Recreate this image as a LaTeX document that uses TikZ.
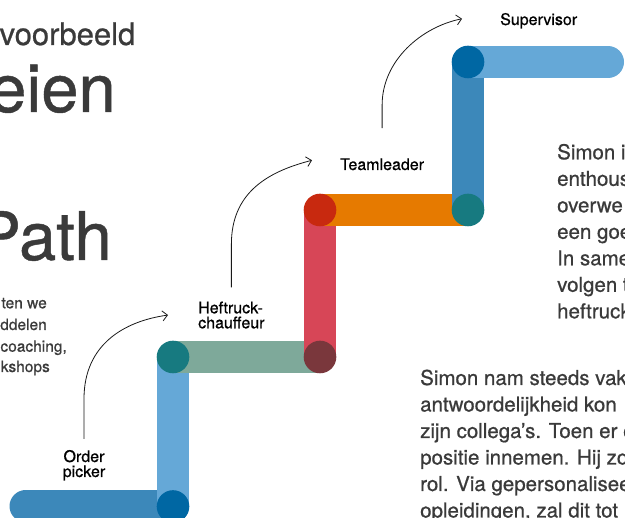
\documentclass[tikz,border=0pt]{standalone}
\usepackage{fontspec}
\setmainfont{TeX Gyre Heros}[FakeBold=0.7]
\usetikzlibrary{arrows.meta}
\definecolor{medblue}{HTML}{3C88BA}
\definecolor{lightblue}{HTML}{65A8D7}
\definecolor{darkblue}{HTML}{0067A3}
\definecolor{tealc}{HTML}{177A80}
\definecolor{greenbar}{HTML}{7EA99A}
\definecolor{maroon}{HTML}{7A373C}
\definecolor{redbar}{HTML}{D74657}
\definecolor{redjoint}{HTML}{C8290F}
\definecolor{orangebar}{HTML}{E67A00}
\definecolor{txt}{HTML}{3A3A3A}
\begin{document}
\begin{tikzpicture}[x=1pt,y=-1pt,
  bar/.style={line width=32pt},
  joint/.style={circle, minimum size=32.6pt, inner sep=0pt, fill=#1},
  lbl/.style={inner sep=0pt, text=black, font=\fontsize{16}{15}\selectfont},
  para/.style={inner sep=0pt, anchor=base west, text=txt, font=\fontsize{20.5}{26.5}\selectfont},
  small/.style={inner sep=0pt, anchor=base east, text=txt, font=\fontsize{15.5}{21}\selectfont},
  conn/.style={line width=0.8pt, black!90, -{Straight Barb[length=5pt,width=10pt]}}]
\useasboundingbox (0,0) rectangle (625,518);
\clip (0,0) rectangle (625,518);
\fill[white] (0,0) rectangle (625,518);

% title texts
\node[inner sep=0pt, anchor=base east, text=txt, font=\fontsize{31}{31}\selectfont] (t1) at (135.5,45) {voorbeeld};
\node[inner sep=0pt, anchor=base east, text=txt, font=\fontsize{67}{67}\selectfont] (t2) at (116,112) {eien};
\node[inner sep=0pt, anchor=base east, text=txt, font=\fontsize{67}{67}\selectfont] (t3) at (112,260) {Path};
\node[small] (s1) at (47,308.3) {ten we};
\node[small] (s2) at (47,330) {ddelen};
\node[small] (s3) at (67,351.7) {coaching,};
\node[small] (s4) at (50,372) {kshops};

% right paragraph
\node[para] (r1) at (557,159.3) {Simon i};
\node[para] (r2) at (557,185.8) {enthous};
\node[para] (r3) at (557,212.3) {overwe};
\node[para] (r4) at (557,238.8) {een goe};
\node[para] (r5) at (557,265.3) {In same};
\node[para] (r6) at (557,291.8) {volgen t};
\node[para] (r7) at (557,318.3) {heftruck};

% bottom paragraph
\node[para] (b1) at (420,385) {Simon nam steeds vak};
\node[para] (b2) at (420,411.5) {antwoordelijkheid kon};
\node[para] (b3) at (420,438) {zijn collega’s. Toen er e};
\node[para] (b4) at (420,464.5) {positie innemen. Hij zo};
\node[para] (b5) at (420,491) {rol. Via gepersonalisee};
\node[para] (b6) at (420,517.5) {opleidingen, zal dit tot};

% path bars
\coordinate (p0) at (25.5,506.5);
\coordinate (p1) at (173,506.5);
\coordinate (p2) at (173,357);
\coordinate (p3) at (320,357);
\coordinate (p4) at (320,210);
\coordinate (p5) at (468,210);
\coordinate (p6) at (468,62);
\coordinate (p7) at (608,62);
\draw[bar, medblue, line cap=round] (p0) -- (p1);
\draw[bar, lightblue] (p1) -- (p2);
\draw[bar, greenbar] (p2) -- (p3);
\draw[bar, redbar] (p3) -- (p4);
\draw[bar, orangebar] (p4) -- (p5);
\draw[bar, medblue] (p5) -- (p6);
\draw[bar, lightblue, line cap=round] (p6) -- (p7);
\node[joint=darkblue] (j1) at (p1) {};
\node[joint=tealc] (j2) at (p2) {};
\node[joint=maroon] (j3) at (p3) {};
\node[joint=redjoint] (j4) at (p4) {};
\node[joint=tealc] (j5) at (p5) {};
\node[joint=darkblue] (j6) at (p6) {};

% labels
\node[lbl, align=center, anchor=base] (op) at (84,477) {Order\\picker};
\node[lbl, align=left, anchor=base west] (hc) at (198,328.3) {Heftruck-\\chauffeur};
\node[lbl, anchor=base west] (tl) at (340,170) {Teamleader};
\node[lbl, anchor=base west] (sv) at (500,25) {Supervisor};

% connectors
\draw[conn] ([yshift=11pt]op.north) -- ++(0,-40) .. controls +(0,-55) and +(-43,6) .. ([xshift=-30pt]hc.west);
\draw[conn] ([yshift=14pt]hc.north) -- ++(0,-43) .. controls +(0,-50) and +(-47,12) .. ([xshift=-28pt,yshift=4pt]tl.west);
\draw[conn] ([yshift=30pt]tl.north) -- ++(0,-23) .. controls +(0,-45) and +(-40,8) .. ([xshift=-38pt,yshift=2pt]sv.west);
\end{tikzpicture}
\end{document}
